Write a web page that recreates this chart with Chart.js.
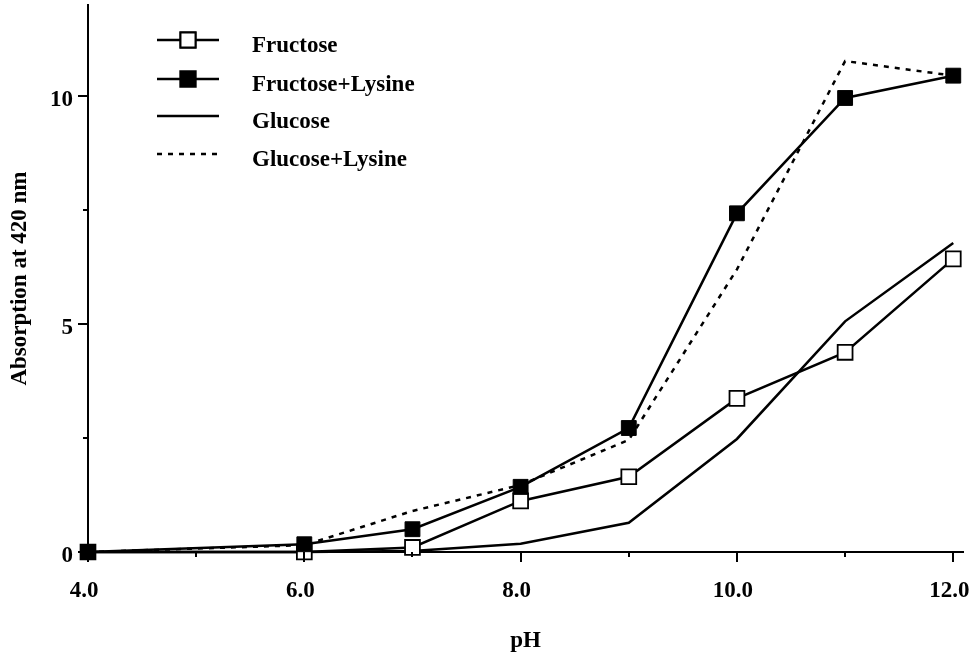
<!DOCTYPE html>
<html>
<head>
<meta charset="utf-8">
<title>Absorption at 420 nm vs pH</title>
<script src="https://cdn.jsdelivr.net/npm/chart.js@4/dist/chart.umd.min.js"></script>
<style>
    html, body { margin: 0; padding: 0; background: #fff; }
    #wrap { width: 970px; height: 657px; position: relative; }
</style>
</head>
<body>
<div id="wrap"><canvas id="chart"></canvas></div>
<script>
// --- DATOS ---
const phValues = [4, 6, 7, 8, 9, 10, 11, 12];
const fructose = [0, 0, 0.1, 1.12, 1.65, 3.37, 4.38, 6.43];
const fructoseLysine = [0, 0.17, 0.5, 1.43, 2.72, 7.43, 9.96, 10.45];
const glucose = [0, 0, 0.02, 0.18, 0.64, 2.48, 5.06, 6.78];
const glucoseLysine = [0, 0.15, 0.9, 1.47, 2.46, 6.2, 10.77, 10.45];

// --- TICKS ---
const xTickValues = [4, 5, 6, 7, 8, 9, 10, 11, 12];
const xTickLabels = ['4.0', '', '6.0', '', '8.0', '', '10.0', '', '12.0'];
const yTickValues = [0, 2.5, 5, 7.5, 10];
const yTickLabels = ['0', '', '5', '', '10'];

const FONT = '"Liberation Serif", "Times New Roman", serif';
const LINE_W = 2.5;

function toPoints(values) {
    return phValues.map((x, i) => ({ x: x, y: values[i] }));
}

// Marcas de los ejes: largas con etiqueta, cortas sin ella
const tickMarks = {
    id: 'tickMarks',
    afterDraw(chart) {
        const ctx = chart.ctx;
        const xs = chart.scales.x;
        const ys = chart.scales.y;
        ctx.save();
        ctx.strokeStyle = '#000';
        ctx.lineWidth = 2;
        xTickValues.forEach((v, i) => {
            const px = Math.round(xs.getPixelForValue(v));
            const len = xTickLabels[i] ? 10 : 5;
            ctx.beginPath();
            ctx.moveTo(px, ys.bottom);
            ctx.lineTo(px, ys.bottom + len);
            ctx.stroke();
        });
        yTickValues.forEach((v, i) => {
            const py = Math.round(ys.getPixelForValue(v));
            const len = yTickLabels[i] ? 10 : 5;
            ctx.beginPath();
            ctx.moveTo(xs.left, py);
            ctx.lineTo(xs.left - len, py);
            ctx.stroke();
        });
        ctx.restore();
    }
};

// Leyenda: línea de muestra con marcador, como en la figura
const sampleLegend = {
    id: 'sampleLegend',
    afterDraw(chart) {
        const ctx = chart.ctx;
        const x0 = 157, x1 = 219, xm = 188, textX = 252;
        const rowLine = [40, 79, 116, 154];
        ctx.save();
        chart.data.datasets.forEach((ds, i) => {
            const y = rowLine[i];
            ctx.strokeStyle = '#000';
            ctx.lineWidth = ds.borderWidth;
            ctx.setLineDash(ds.borderDash || []);
            ctx.beginPath();
            ctx.moveTo(x0, y);
            ctx.lineTo(x1, y);
            ctx.stroke();
            ctx.setLineDash([]);
            if (ds.pointRadius > 0) {
                Chart.helpers.drawPoint(ctx, {
                    pointStyle: 'rect',
                    radius: ds.pointRadius,
                    borderWidth: ds.pointBorderWidth,
                    rotation: 0
                }, xm, y);
                ctx.fillStyle = ds.pointBackgroundColor;
                ctx.strokeStyle = '#000';
                ctx.lineWidth = ds.pointBorderWidth;
                ctx.fill();
                ctx.stroke();
            }
            ctx.fillStyle = '#000';
            ctx.font = 'bold 23px ' + FONT;
            ctx.textBaseline = 'alphabetic';
            ctx.textAlign = 'left';
            ctx.fillText(ds.label, textX, y + 12);
        });
        ctx.restore();
    }
};

new Chart(document.getElementById('chart'), {
    type: 'line',
    data: {
        datasets: [
            {
                label: 'Fructose',
                data: toPoints(fructose),
                borderColor: '#000',
                borderWidth: LINE_W,
                pointStyle: 'rect',
                pointRadius: 10.5,
                pointBorderWidth: 1.8,
                pointBackgroundColor: '#fff',
                pointBorderColor: '#000',
                order: 1
            },
            {
                label: 'Fructose+Lysine',
                data: toPoints(fructoseLysine),
                borderColor: '#000',
                borderWidth: LINE_W,
                pointStyle: 'rect',
                pointRadius: 10.5,
                pointBorderWidth: 1,
                pointBackgroundColor: '#000',
                pointBorderColor: '#000',
                order: 0
            },
            {
                label: 'Glucose',
                data: toPoints(glucose),
                borderColor: '#000',
                borderWidth: LINE_W,
                pointRadius: 0,
                order: 2
            },
            {
                label: 'Glucose+Lysine',
                data: toPoints(glucoseLysine),
                borderColor: '#000',
                borderWidth: LINE_W,
                borderDash: [5, 6],
                pointRadius: 0,
                order: 3
            }
        ]
    },
    options: {
        responsive: true,
        maintainAspectRatio: false,
        animation: false,
        events: [],
        clip: false,
        layout: { autoPadding: false, padding: { top: 5, right: 7, left: 0, bottom: 0 } },
        elements: { line: { tension: 0 } },
        plugins: {
            legend: { display: false },
            tooltip: { enabled: false }
        },
        scales: {
            x: {
                type: 'linear',
                min: 4,
                max: 12.09,
                grid: { color: 'rgba(0,0,0,0)', drawOnChartArea: false, drawTicks: true, tickLength: 10 },
                border: { display: true, color: '#000', width: 2 },
                afterBuildTicks: scale => { scale.ticks = xTickValues.map(v => ({ value: v })); },
                afterFit: scale => { scale.height = 105; scale.paddingLeft = 0; scale.paddingRight = 0; },
                ticks: {
                    autoSkip: false,
                    maxRotation: 0,
                    padding: 15,
                    labelOffset: -4,
                    color: '#000',
                    font: { family: FONT, size: 23, weight: 'bold' },
                    callback: value => xTickLabels[xTickValues.indexOf(value)] || ''
                },
                title: {
                    display: true,
                    text: 'pH',
                    color: '#000',
                    padding: { bottom: 2, top: 0 },
                    font: { family: FONT, size: 23, weight: 'bold' }
                }
            },
            y: {
                type: 'linear',
                min: 0,
                max: 12,
                grid: { color: 'rgba(0,0,0,0)', drawOnChartArea: false, drawTicks: true, tickLength: 10 },
                border: { display: true, color: '#000', width: 2 },
                afterBuildTicks: scale => { scale.ticks = yTickValues.map(v => ({ value: v })); },
                afterFit: scale => { scale.width = 88; scale.paddingTop = 0; scale.paddingBottom = 0; },
                ticks: {
                    autoSkip: false,
                    padding: 5,
                    labelOffset: 4,
                    color: '#000',
                    font: { family: FONT, size: 23, weight: 'bold' },
                    callback: value => yTickLabels[yTickValues.indexOf(value)] || ''
                },
                title: {
                    display: true,
                    text: 'Absorption at 420 nm',
                    color: '#000',
                    padding: { top: 6, bottom: 0 },
                    font: { family: FONT, size: 23, weight: 'bold' }
                }
            }
        }
    },
    plugins: [tickMarks, sampleLegend]
});
</script>
</body>
</html>
